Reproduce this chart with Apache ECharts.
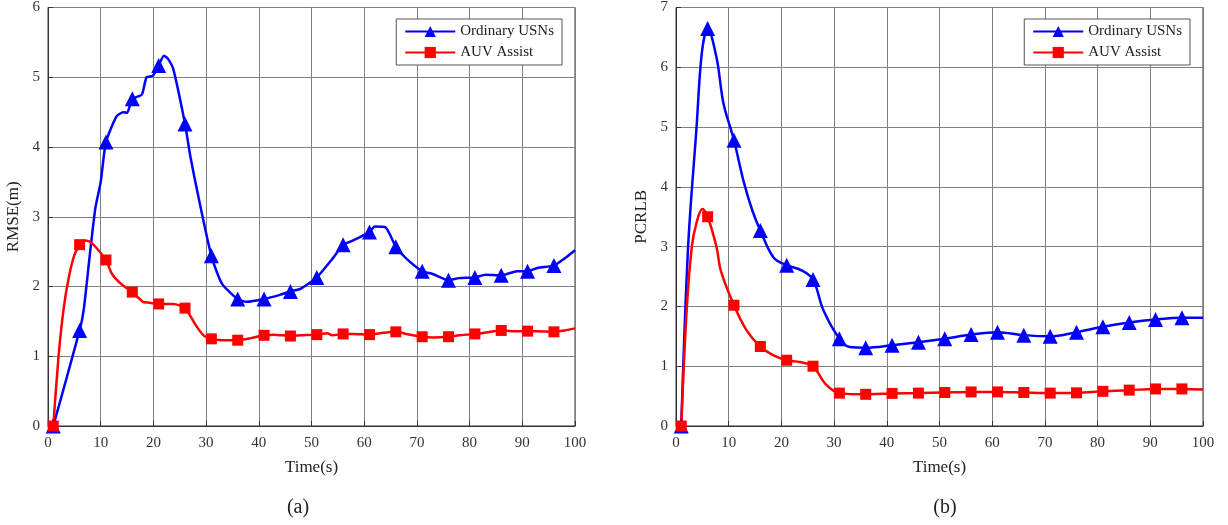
<!DOCTYPE html>
<html>
<head>
<meta charset="utf-8">
<script src="https://cdn.jsdelivr.net/npm/echarts@6/dist/echarts.min.js"></script>
<style>html,body{margin:0;padding:0;background:#fff}#c{width:1228px;height:525px}</style>
</head>
<body>
<div id="c"></div>
<script>
// ---- data ----
const xTicks = [0,10,20,30,40,50,60,70,80,90,100];
const seriesNames = ['Ordinary USNs', 'AUV Assist'];

// (a) RMSE(m)
const rmseUsnT = [1,6,6.8,8,9,10,11,13,14.3,15,16,17.8,18.7,19.9,21,22,22.8,23.8,26,27,28.5,31,33,36,37.7,41,44,46,48,51,54,56,57.6,59,61,62,64,66,68,71,73,76,78,81,83,86,89,91,93,96,98,100];
const rmseUsnV = [0,1.37,1.68,2.5,3.13,3.5,4.07,4.44,4.5,4.49,4.69,4.75,5.0,5.02,5.17,5.31,5.26,5.11,4.33,3.87,3.3,2.44,2.04,1.82,1.78,1.82,1.88,1.93,1.97,2.13,2.4,2.6,2.65,2.7,2.78,2.86,2.85,2.57,2.4,2.22,2.18,2.09,2.12,2.13,2.17,2.16,2.22,2.22,2.27,2.3,2.4,2.52];
const rmseAuvT = [1,2,3,4,5,6,7,8,9,11,12,13,14.5,16,17,18,19,21,23.8,26,28,29.5,31,33,36,38.5,41,43,46,48,51,53,54,56,58,61,63,66,68,71,73,76,78,81,83,86,88,91,93,96,98,100];
const rmseAuvV = [0,1.0,1.7,2.15,2.45,2.6,2.66,2.64,2.57,2.38,2.2,2.1,2.0,1.92,1.85,1.78,1.77,1.75,1.75,1.69,1.45,1.3,1.25,1.23,1.23,1.26,1.3,1.31,1.29,1.3,1.31,1.33,1.3,1.32,1.32,1.31,1.33,1.35,1.32,1.28,1.27,1.28,1.3,1.32,1.34,1.37,1.36,1.36,1.36,1.35,1.37,1.4];

// (b) PCRLB
const pcrlbUsnT = [1,2.3,3.9,4.9,6,7.7,9,11,12.8,14.5,16,18.5,21,23.9,26,28,31,33,36,41,46,51,56,61,66,71,76,81,86,91,96,100];
const pcrlbUsnV = [0,3.0,5.0,6.24,6.65,6.16,5.4,4.78,4.1,3.6,3.27,2.82,2.69,2.6,2.45,1.93,1.46,1.32,1.31,1.35,1.4,1.46,1.53,1.57,1.52,1.5,1.57,1.66,1.73,1.78,1.81,1.81];
const pcrlbAuvT = [1,2,3,3.9,5,6,7.7,8.5,11,13.4,16,18.5,21,23.5,26,28.3,31,36,41,46,51,56,61,66,71,76,81,86,91,96,100];
const pcrlbAuvV = [0,1.9,3.0,3.4,3.63,3.5,2.99,2.6,2.02,1.6,1.33,1.18,1.1,1.07,1.0,0.71,0.55,0.53,0.545,0.55,0.56,0.57,0.57,0.56,0.55,0.555,0.58,0.6,0.62,0.62,0.61];

// ---- build ----
const FONT = '"Liberation Serif", "Times New Roman", serif';
function pts(T, V) {
  return T.map((t, i) => {
    const isMarker = Number.isInteger(t) && (t - 1) % 5 === 0;
    return isMarker ? { value: [t, V[i]] } : { value: [t, V[i]], symbol: 'none' };
  });
}
function lineSeries(name, T, V, idx, color, symbol, size, smooth) {
  return {
    name, type: 'line', xAxisIndex: idx, yAxisIndex: idx,
    data: pts(T, V), smooth, symbol, symbolSize: size, showAllSymbol: true,
    color, lineStyle: { color, width: 2.5 }, itemStyle: { color },
    emphasis: { disabled: true }, animation: false, z: 3
  };
}
function xAxis(idx) {
  return {
    type: 'value', gridIndex: idx, min: 0, max: 100, interval: 10,
    name: 'Time(s)', nameLocation: 'middle', nameGap: 33,
    nameTextStyle: { fontFamily: FONT, fontSize: 17, color: '#222' },
    axisLine: { lineStyle: { color: '#333', width: 1 } },
    axisTick: { inside: true, length: 5, lineStyle: { color: '#333' } },
    axisLabel: { fontFamily: FONT, fontSize: 15, color: '#333', margin: 10 },
    splitLine: { show: true, lineStyle: { color: '#808080', width: 1 } }
  };
}
function yAxis(idx, name, max) {
  return {
    type: 'value', gridIndex: idx, min: 0, max, interval: 1,
    name, nameLocation: 'middle', nameGap: 26,
    nameTextStyle: { fontFamily: FONT, fontSize: 17, color: '#222' },
    axisLine: { show: true, lineStyle: { color: '#333', width: 1 } },
    axisTick: { show: true, inside: true, length: 5, lineStyle: { color: '#333' } },
    axisLabel: { fontFamily: FONT, fontSize: 15, color: '#333', margin: 8 },
    splitLine: { show: true, lineStyle: { color: '#808080', width: 1 } }
  };
}
function legend(right) {
  return {
    data: seriesNames, orient: 'vertical', right, top: 19,
    itemWidth: 50, itemHeight: 14, itemGap: 6,
    padding: [5, 8, 5, 8],
    backgroundColor: '#fff', borderColor: '#555', borderWidth: 1,
    textStyle: { fontFamily: FONT, fontSize: 15, color: '#222' },
    selectedMode: false
  };
}

const chart = echarts.init(document.getElementById('c'), null, { renderer: 'canvas' });
chart.setOption({
  backgroundColor: '#fff',
  animation: false,
  grid: [
    { left: 48, right: 653, top: 6, bottom: 99, show: true, borderColor: '#333', borderWidth: 1, containLabel: false },
    { left: 676, right: 25, top: 6, bottom: 99, show: true, borderColor: '#333', borderWidth: 1, containLabel: false }
  ],
  xAxis: [xAxis(0), xAxis(1)],
  yAxis: [yAxis(0, 'RMSE(m)', 6), yAxis(1, 'PCRLB', 7)],
  legend: [legend(666), legend(38)],
  series: [
    lineSeries(seriesNames[0], rmseUsnT, rmseUsnV, 0, '#0000ff', 'triangle', 15, 0.2),
    lineSeries(seriesNames[1], rmseAuvT, rmseAuvV, 0, '#ff0000', 'rect', 11, 0.2),
    lineSeries(seriesNames[0], pcrlbUsnT, pcrlbUsnV, 1, '#0000ff', 'triangle', 15, 0.35),
    lineSeries(seriesNames[1], pcrlbAuvT, pcrlbAuvV, 1, '#ff0000', 'rect', 11, 0.35)
  ],
  graphic: [
    { type: 'text', x: 298, y: 508, style: { text: '(a)', fontFamily: FONT, fontSize: 20, fill: '#222', align: 'center', verticalAlign: 'middle' } },
    { type: 'text', x: 945, y: 508, style: { text: '(b)', fontFamily: FONT, fontSize: 20, fill: '#222', align: 'center', verticalAlign: 'middle' } }
  ]
});
</script>
</body>
</html>
